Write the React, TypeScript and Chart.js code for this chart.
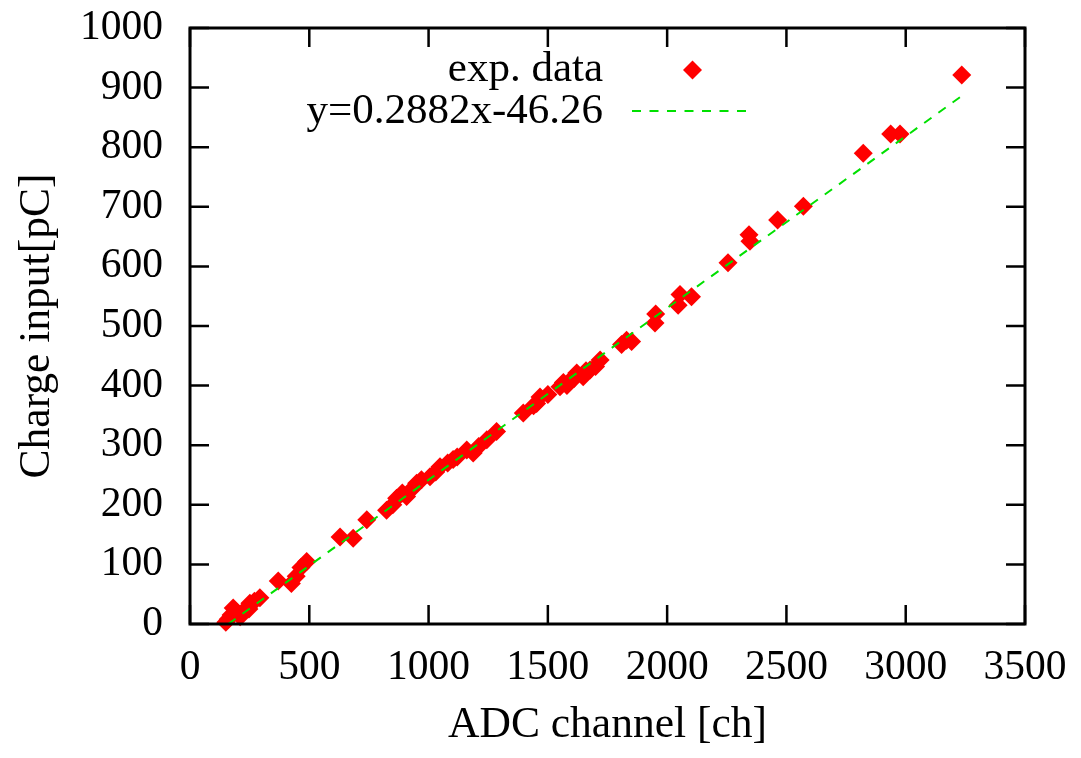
import React, { useEffect, useRef } from "react";
import { Chart, registerables } from "chart.js";

Chart.register(...registerables);

// ADC channel [ch] of each measurement
const adcChannel = [
  150, 160, 172, 181, 195, 210, 225, 247, 251, 270, 293,
  370, 425, 445, 465, 489,
  629, 684, 741, 824, 850, 866, 890, 908, 935, 950, 970, 1006, 1030, 1048, 1080, 1103, 1120,
  1160, 1187, 1210, 1244, 1285,
  1397, 1440, 1453, 1467, 1500, 1551, 1565, 1580, 1600, 1610, 1621, 1648, 1660, 1677, 1700, 1719,
  1809, 1830, 1851, 1949, 1952, 2046, 2054, 2102, 2255, 2343, 2347, 2463, 2571,
  2822, 2937, 2976, 3235,
];
// Charge input [pC] of each measurement
const chargeInput = [
  3, 8, 15, 27, 20, 12, 22, 25, 35, 38, 44,
  72, 68, 80, 95, 105,
  146, 144, 175, 191, 200, 211, 220, 214, 228, 236, 242, 247, 255, 264, 270, 276, 280,
  292, 287, 298, 309, 323,
  354, 366, 370, 381, 385, 398, 405, 400, 411, 412, 421, 415, 425, 426, 432, 443,
  469, 476, 474, 505, 520, 535, 553, 549, 606, 653, 642, 678, 701,
  790, 822, 822, 921,
];

// Linear fit y = slope * x + intercept
const fitSlope = 0.2882;
const fitIntercept = -46.26;
const fitXRange = [160.5, 3235];

const xTickValues = [0, 500, 1000, 1500, 2000, 2500, 3000, 3500];
const yTickValues = [0, 100, 200, 300, 400, 500, 600, 700, 800, 900, 1000];

const legendLabels = ["exp. data", "y=0.2882x-46.26"];
const xTitle = "ADC channel [ch]";
const yTitle = "Charge input[pC]";

const FONT = '"Liberation Serif", "Times New Roman", serif';
const RED = "#ff0000";
const GREEN = "#00e000";

const framePlugin = {
  id: "gnuplotFrame",
  afterDatasetsDraw(chart: any) {
    const { ctx, chartArea } = chart;
    const { left, right, top, bottom } = chartArea;
    const xs = chart.scales.x;
    const ys = chart.scales.y;
    const tl = 19;
    ctx.save();
    ctx.strokeStyle = "#000";
    ctx.lineWidth = 2.5;
    ctx.beginPath();
    xTickValues.forEach((v) => {
      const px = xs.getPixelForValue(v);
      ctx.moveTo(px, bottom);
      ctx.lineTo(px, bottom - tl);
      ctx.moveTo(px, top);
      ctx.lineTo(px, top + tl);
    });
    yTickValues.forEach((v) => {
      const py = ys.getPixelForValue(v);
      ctx.moveTo(left, py);
      ctx.lineTo(left + tl, py);
      ctx.moveTo(right, py);
      ctx.lineTo(right - tl, py);
    });
    ctx.stroke();
    ctx.lineWidth = 3;
    ctx.strokeRect(left, top, right - left, bottom - top);
    ctx.restore();
  },
  afterDraw(chart: any) {
    const { ctx, chartArea } = chart;
    const textRight = chartArea.left + 413;
    const row1 = chartArea.top + 42;
    const row2 = chartArea.top + 84;
    const sampleL = chartArea.left + 442;
    const sampleR = chartArea.left + 563;
    ctx.save();
    ctx.font = `43px ${FONT}`;
    ctx.fillStyle = "#000";
    ctx.textAlign = "right";
    ctx.textBaseline = "middle";
    ctx.fillText(legendLabels[0], textRight, row1);
    ctx.fillText(legendLabels[1], textRight, row2);
    // diamond sample
    const cx = (sampleL + sampleR) / 2;
    const r = 9.5;
    ctx.fillStyle = RED;
    ctx.beginPath();
    ctx.moveTo(cx - r, row1);
    ctx.lineTo(cx, row1 - r);
    ctx.lineTo(cx + r, row1);
    ctx.lineTo(cx, row1 + r);
    ctx.closePath();
    ctx.fill();
    // dashed line sample
    ctx.strokeStyle = GREEN;
    ctx.lineWidth = 2;
    ctx.setLineDash([9, 8.5]);
    ctx.beginPath();
    ctx.moveTo(sampleL, row2 - 1);
    ctx.lineTo(sampleR, row2 - 1);
    ctx.stroke();
    ctx.restore();
  },
};

export default function App() {
  const canvasRef = useRef<HTMLCanvasElement | null>(null);

  useEffect(() => {
    document.body.style.margin = "0";
    const canvas = canvasRef.current;
    if (!canvas) return;

    const scatterData = adcChannel.map((x, i) => ({ x, y: chargeInput[i] }));
    const fitData = fitXRange.map((x) => ({ x, y: fitSlope * x + fitIntercept }));

    const tickFont = { family: FONT, size: 41.5 };
    const titleFont = { family: FONT, size: 43.5 };

    const chart = new Chart(canvas, {
      type: "scatter",
      data: {
        datasets: [
          {
            label: legendLabels[1],
            data: fitData,
            showLine: true,
            borderColor: GREEN,
            borderWidth: 2,
            borderDash: [9, 8.5],
            pointRadius: 0,
            fill: false,
            order: 0,
          } as any,
          {
            label: legendLabels[0],
            data: scatterData,
            pointStyle: "rectRot",
            pointRadius: 9.5,
            pointBorderWidth: 0,
            pointBackgroundColor: RED,
            backgroundColor: RED,
            borderColor: RED,
            clip: false,
            order: 1,
          } as any,
        ],
      },
      options: {
        animation: false,
        responsive: false,
        devicePixelRatio: 1,
        layout: { padding: { left: 0, right: 56, top: 28, bottom: 0 } },
        plugins: {
          legend: { display: false },
          tooltip: { enabled: false },
        },
        scales: {
          x: {
            type: "linear",
            min: 0,
            max: 3500,
            afterBuildTicks: (s: any) => {
              s.ticks = xTickValues.map((v) => ({ value: v }));
            },
            ticks: {
              font: tickFont,
              color: "#000",
              padding: 19,
              maxRotation: 0,
              autoSkip: false,
              callback: (v: any) => String(v),
            },
            grid: { display: false, drawTicks: false },
            border: { display: false },
            title: {
              display: true,
              text: xTitle,
              color: "#000",
              font: titleFont,
              padding: { top: 0, bottom: 6 },
            },
            afterFit: (s: any) => {
              s.height = 134;
              s.paddingLeft = 0;
              s.paddingRight = 0;
            },
          },
          y: {
            type: "linear",
            min: 0,
            max: 1000,
            afterBuildTicks: (s: any) => {
              s.ticks = yTickValues.map((v) => ({ value: v }));
            },
            ticks: {
              font: tickFont,
              color: "#000",
              padding: 27,
              autoSkip: false,
              callback: (v: any) => String(v),
            },
            grid: { display: false, drawTicks: false },
            border: { display: false },
            title: {
              display: true,
              text: yTitle,
              color: "#000",
              font: titleFont,
              padding: { top: 11, bottom: 0 },
            },
            afterFit: (s: any) => {
              s.width = 190;
              s.paddingTop = 0;
              s.paddingBottom = 0;
            },
          },
        },
      },
      plugins: [framePlugin],
    });

    return () => {
      chart.destroy();
    };
  }, []);

  return (
    <div style={{ width: 1081, height: 758 }}>
      <canvas ref={canvasRef} width={1081} height={758} style={{ display: "block" }} />
    </div>
  );
}
